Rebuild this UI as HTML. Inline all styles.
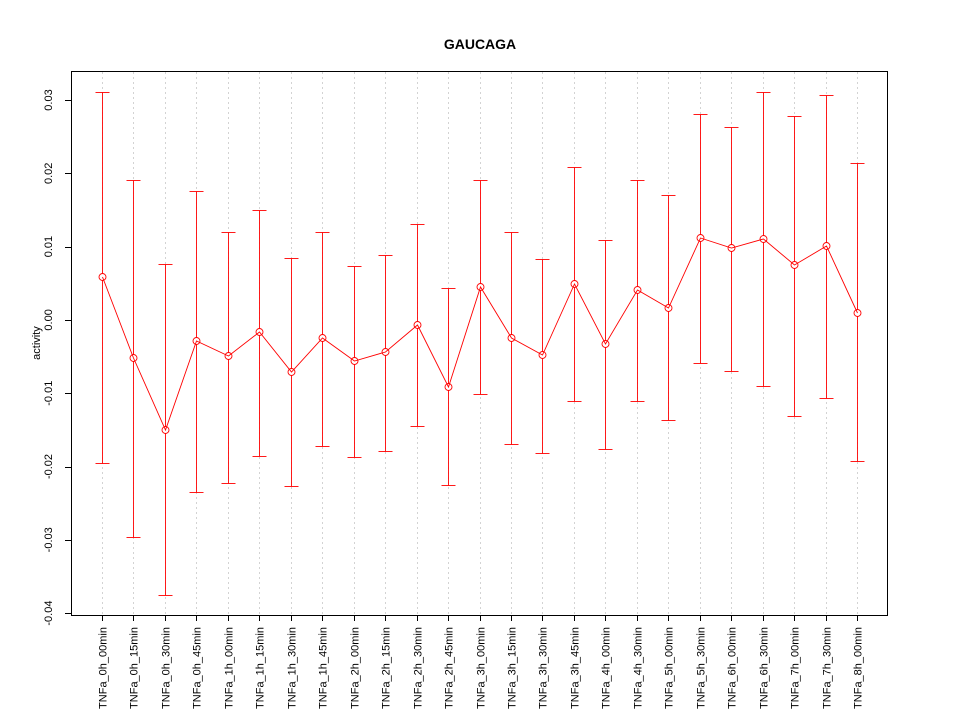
<!DOCTYPE html>
<html><head><style>body{margin:0;background:#fff}svg{display:block}</style></head><body>
<svg width="960" height="720" xmlns="http://www.w3.org/2000/svg" font-family="Liberation Sans, sans-serif">
<rect width="960" height="720" fill="#fff"/>
<text x="480" y="49" text-anchor="middle" font-size="14" font-weight="bold">GAUCAGA</text>
<g id="grid" stroke="#d3d3d3" stroke-dasharray="2,3" stroke-width="1"></g>
<rect x="71.5" y="71.5" width="816" height="544" fill="none" stroke="#000"/>
<g stroke="#000">
<line x1="71.5" y1="100" x2="71.5" y2="613"/>
</g>
<g id="yt" font-size="11"></g>
<text transform="translate(40,343) rotate(-90)" text-anchor="middle" font-size="11">activity</text>
<g id="xt" font-size="11"></g>
<g id="ser" stroke="#ff0000" fill="none" stroke-width="0.9"></g>
<script>
var ns="http://www.w3.org/2000/svg";
function el(p,t,a,txt){var e=document.createElementNS(ns,t);for(var k in a)e.setAttribute(k,a[k]);if(txt)e.textContent=txt;document.getElementById(p).appendChild(e);return e;}
var labels=["TNFa_0h_00min","TNFa_0h_15min","TNFa_0h_30min","TNFa_0h_45min","TNFa_1h_00min","TNFa_1h_15min","TNFa_1h_30min","TNFa_1h_45min","TNFa_2h_00min","TNFa_2h_15min","TNFa_2h_30min","TNFa_2h_45min","TNFa_3h_00min","TNFa_3h_15min","TNFa_3h_30min","TNFa_3h_45min","TNFa_4h_00min","TNFa_4h_30min","TNFa_5h_00min","TNFa_5h_30min","TNFa_6h_00min","TNFa_6h_30min","TNFa_7h_00min","TNFa_7h_30min","TNFa_8h_00min"];
var d=[[277,92,463],[358,180,537],[430,264,595],[341,191,492],[356,232,483],[332,210,456],[372,258,486],[338,232,446],[361,266,457],[352,255,451],[325,224,426],[387,288,485],[287,180,394],[338,232,444],[355,259,453],[284,167,401],[344,240,449],[290,180,401],[308,195,420],[238,114,363],[248,127,371],[239,92,386],[265,116,416],[246,95,398],[313,163,461]];
var pts=[];
for(var i=0;i<25;i++){var x=Math.round(102+i*31.46)+0.5;
el("grid","line",{x1:x,y1:72,x2:x,y2:615});
el("grid","line",{x1:x,y1:615,x2:x,y2:621,stroke:"#000","stroke-dasharray":"none"});
var t=el("xt","text",{transform:"translate("+(x+4)+",627) rotate(-90)","text-anchor":"end"},labels[i]);
var c=d[i];
el("ser","line",{x1:x,y1:c[1]+.5,x2:x,y2:c[2]+.5});
el("ser","line",{x1:x-7,y1:c[1]+.5,x2:x+7,y2:c[1]+.5});
el("ser","line",{x1:x-7,y1:c[2]+.5,x2:x+7,y2:c[2]+.5});
el("ser","circle",{cx:x,cy:c[0],r:3.5,fill:"#fff"});
pts.push(x+","+c[0]);}
el("ser","polyline",{points:pts.join(" ")});
var yv=["0.03","0.02","0.01","0.00","-0.01","-0.02","-0.03","-0.04"];
for(var j=0;j<8;j++){var y=100+j*73.3;
el("yt","line",{x1:65,y1:Math.round(y)+.5,x2:71.5,y2:Math.round(y)+.5,stroke:"#000"});
el("yt","text",{transform:"translate(52,"+y+") rotate(-90)","text-anchor":"middle"},yv[j]);}
</script>
</svg>
</body></html>
